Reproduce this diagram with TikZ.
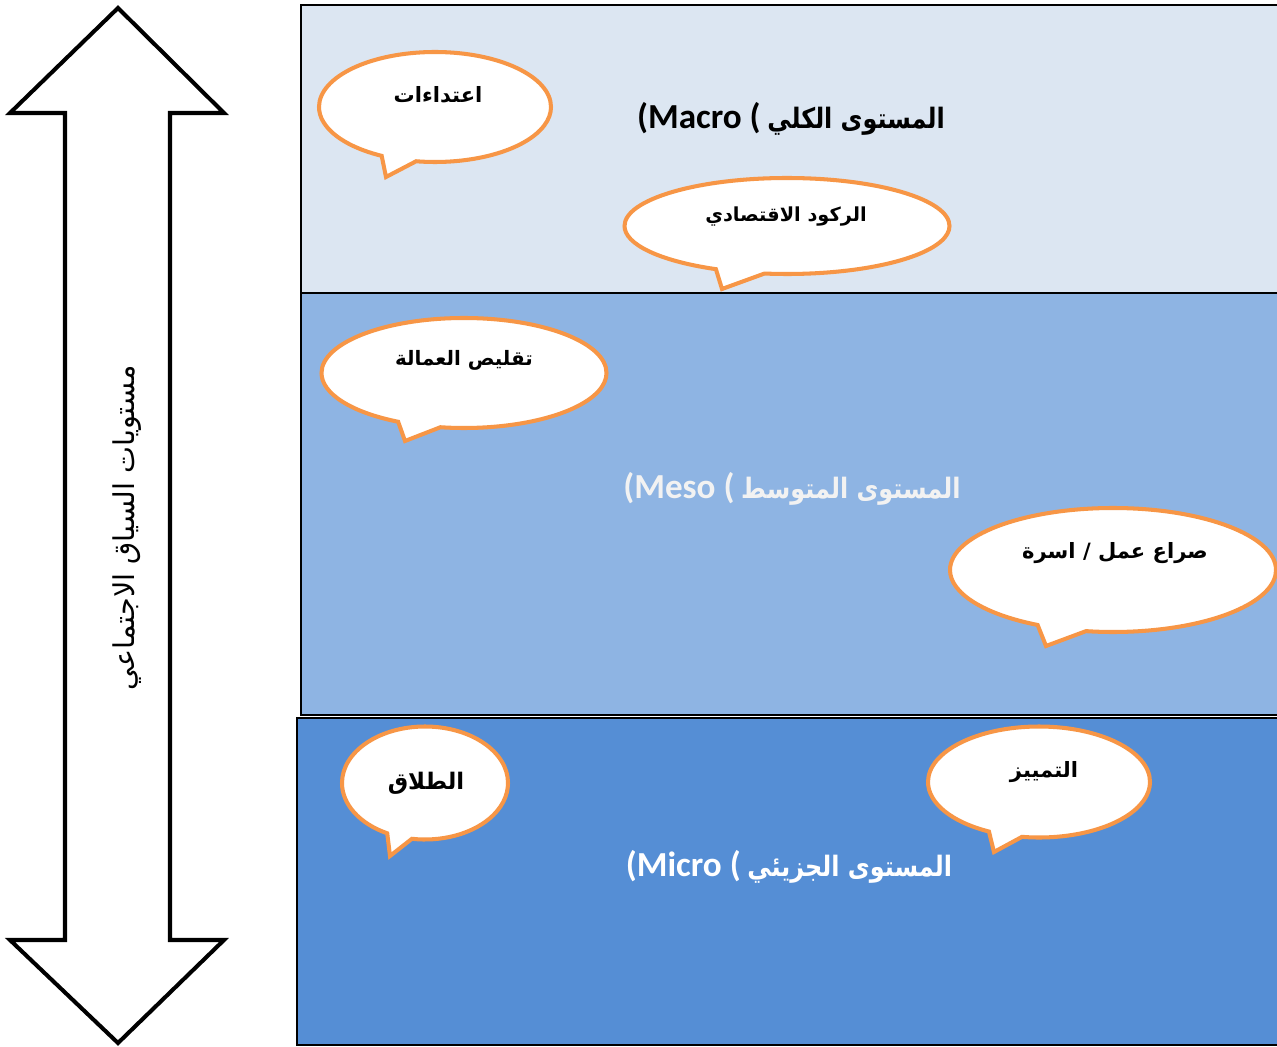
\documentclass[tikz,border=0pt]{standalone}
\usepackage{fontspec}
\usetikzlibrary{shapes.callouts}
\TeXXeTstate=1
\newfontfamily\arabicfont[Script=Arabic]{DejaVu Sans}
\newfontfamily\arabicnarrow[Script=Arabic,FakeStretch=0.85]{DejaVu Sans Bold}
\newfontfamily\latinfont{Carlito}
\definecolor{macrofill}{HTML}{DCE6F2}
\definecolor{mesofill}{HTML}{8EB4E3}
\definecolor{microfill}{HTML}{558ED5}
\definecolor{bubbleedge}{HTML}{F79646}
\definecolor{mesotext}{HTML}{F2F2F2}
\begin{document}
\begin{tikzpicture}[x=0.02cm,y=-0.02cm,
  panel/.style={draw=black,line width=1.1pt},
  bubble/.style n args={3}{ellipse callout,draw=bubbleedge,fill=white,
    line width=2.3pt,inner sep=0pt,
    minimum width=#1*0.02cm,minimum height=#2*0.02cm,
    callout pointer arc=18,callout absolute pointer={#3}},
  bubbletext/.style={font=\arabicfont\bfseries\fontsize{12}{14}\selectfont,text=black,inner sep=0pt},
  leveltitle/.style={font=\bfseries,inner sep=0pt}]
\useasboundingbox (0,0) rectangle (1277,1047);

% level panels
\filldraw[panel,fill=macrofill] (301,5) rectangle (1279,293);
\filldraw[panel,fill=mesofill] (301,293) rectangle (1279,715);
\filldraw[panel,fill=microfill] (297,718) rectangle (1279,1045);

% double-headed arrow for the social context levels
\filldraw[draw=black,fill=white,line width=2.3pt,line join=miter]
  (118,8) -- (224,113) -- (170,113) -- (170,940) -- (224,940) -- (118,1043)
  -- (10,940) -- (65,940) -- (65,113) -- (10,113) -- cycle;
\node[rotate=90,inner sep=0pt,font=\arabicfont\fontsize{16.3}{19}\selectfont] (axis) at (127,528)
  {\beginR مستويات السياق الاجتماعي\endR};

% callouts
\node[bubble={232}{110}{(386,177)}] (b1) at (435,107) {};
\node[bubbletext] (t1) at (438,95) {\beginR اعتداءات\endR};

\node[bubble={325}{96}{(722,289)}] (b2) at (787,226) {};
\node[bubbletext,font=\arabicfont\bfseries\fontsize{11}{13}\selectfont] (t2) at (786,217) {\beginR الركود الاقتصادي\endR};

\node[bubble={285}{110}{(405,441)}] (b3) at (464,373) {};
\node[bubbletext,font=\arabicfont\bfseries\fontsize{11.3}{13}\selectfont] (t3) at (464,360) {\beginR تقليص العمالة\endR};

\node[bubble={326}{124}{(1046,646)}] (b4) at (1113,570) {};
\node[bubbletext] (t4) at (1115,553) {\beginR صراع عمل / اسرة\endR};

\node[bubble={166}{113}{(390,856)}] (b5) at (425,783) {};
\node[bubbletext,font=\arabicfont\bfseries\fontsize{13}{15}\selectfont] (t5) at (426,783) {\beginR الطلاق\endR};

\node[bubble={222}{111}{(994,852)}] (b6) at (1039,782) {};
\node[bubbletext] (t6) at (1044,772) {\beginR التمييز\endR};

% level titles
\node[leveltitle,text=black] (macro) at (791,119)
  {{\latinfont\fontsize{20}{24}\selectfont (Macro (}\ {\arabicnarrow\fontsize{16}{19}\selectfont\beginR المستوى الكلي\endR}};
\node[leveltitle,text=mesotext] (meso) at (792,489)
  {{\latinfont\fontsize{20}{24}\selectfont (Meso (}\ {\arabicnarrow\fontsize{16}{19}\selectfont\beginR المستوى المتوسط\endR}};
\node[leveltitle,text=white] (micro) at (789,867)
  {{\latinfont\fontsize{20}{24}\selectfont (Micro (}\ {\arabicnarrow\fontsize{16}{19}\selectfont\beginR المستوى الجزيئي\endR}};
\end{tikzpicture}
\end{document}
